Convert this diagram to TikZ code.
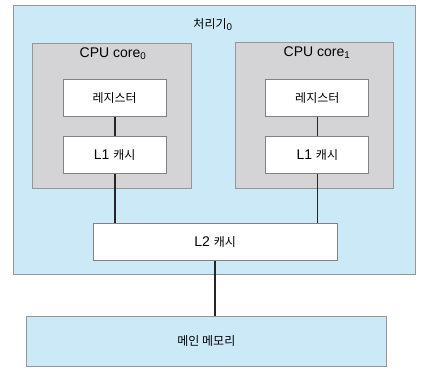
\documentclass[tikz,border=0pt]{standalone}
\usepackage{fontspec}
\setmainfont{Liberation Sans}
\newfontfamily\krfam{Noto Sans CJK KR}
\newcommand\ko[1]{{\krfam\fontsize{12}{15}\selectfont #1}}
\definecolor{procblue}{RGB}{204,233,248}
\definecolor{coregray}{RGB}{212,212,214}
\definecolor{outerline}{RGB}{150,150,152}
\definecolor{innerline}{RGB}{130,130,133}
\begin{document}
\begin{tikzpicture}[x=1pt,y=-1pt,
  lbl/.style={font=\fontsize{14}{16}\selectfont, inner sep=0pt},
  outerbox/.style={draw=outerline, line width=1pt, anchor=north west, inner sep=0pt},
  whitebox/.style={draw=innerline, fill=white, line width=1pt, anchor=north west, inner sep=0pt, font=\fontsize{14}{16}\selectfont},
  conn/.style={draw=black!85, line width=1.6pt}]
\useasboundingbox (0,0) rectangle (431,383);
\node[outerbox, fill=procblue, minimum width=401.7pt, minimum height=269.3pt] (proc) at (13.3,5) {};
\node[lbl] (ptitle) at (213,25) {\ko{처리기}\textsubscript{0}};
\node[outerbox, fill=coregray, minimum width=158.4pt, minimum height=145.6pt] (core0) at (32.3,42.7) {};
\node[outerbox, fill=coregray, minimum width=157.7pt, minimum height=146.3pt] (core1) at (235,41.9) {};
\node[lbl] (c0title) at (113,54) {CPU core\textsubscript{0}};
\node[lbl] (c1title) at (317,53) {CPU core\textsubscript{1}};
\node[whitebox, minimum width=103pt, minimum height=36.7pt] (reg0) at (62.7,79.3) {\ko{레지스터}};
\node[whitebox, minimum width=103pt, minimum height=37.6pt] (l10) at (62.7,135.7) {L1 \ko{캐시}};
\node[whitebox, minimum width=103pt, minimum height=36.7pt] (reg1) at (265.3,79.3) {\ko{레지스터}};
\node[whitebox, minimum width=103pt, minimum height=37.6pt] (l11) at (265.3,135.7) {L1 \ko{캐시}};
\node[whitebox, minimum width=244pt, minimum height=36.7pt] (l2) at (92.7,223.3) {L2 \ko{캐시}};
\node[outerbox, fill=procblue, minimum width=359.7pt, minimum height=49.4pt] (mem) at (26,316.3) {\ko{메인 메모리}};
\draw[conn] (reg0.south) -- (l10.north);
\draw[conn] (reg1.south) -- (l11.north);
\draw[conn] (l10.south) -- (l10.south |- l2.north);
\draw[conn] (l11.south) -- (l11.south |- l2.north);
\draw[conn] (l2.south) -- (l2.south |- mem.north);
\end{tikzpicture}
\end{document}
